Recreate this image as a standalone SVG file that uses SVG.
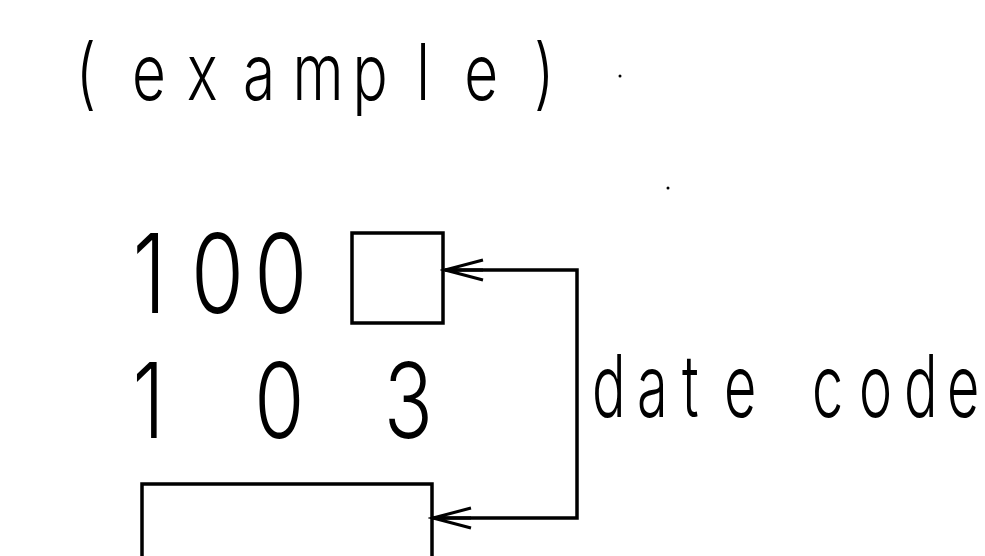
<svg xmlns="http://www.w3.org/2000/svg" width="985" height="556" viewBox="0 0 985 556">
<style>
  .t { font-family: "Inter", "Liberation Sans", sans-serif; font-weight: 300; fill: #000; }
  .ln { fill: none; stroke: #000; stroke-width: 3.5; }
</style>
<defs>
  <marker id="arr" markerUnits="userSpaceOnUse" markerWidth="50" markerHeight="30" viewBox="-45 -15 50 30" refX="0" refY="0" orient="auto-start-reverse">
    <path d="M-38,-10 L0,0 L-38,10 M0,0 L-38,0" fill="none" stroke="#000" stroke-width="3"/>
  </marker>
</defs>
<rect width="985" height="556" fill="#fff"/>
<g id="title">
  <text class="t" transform="translate(0,100) scale(0.75,1)" font-size="78" x="101 176 249 324 390 470 555 619 712" y="0">(example)</text>
  <circle cx="620" cy="76" r="1.5" fill="#000"/>
  <circle cx="668" cy="188" r="1.5" fill="#000"/>
</g>
<g id="label-100">
  <text class="t" transform="translate(0,313) scale(0.78,1)" font-size="110" x="170 245 326" y="0">100</text>
</g>
<g id="box-top">
  <rect class="ln" x="352" y="233" width="91" height="90"/>
</g>
<g id="label-103">
  <text class="t" transform="translate(0,438) scale(0.78,1)" font-size="104" x="170 250 326 400 492" y="0">1 0 3</text>
</g>
<g id="box-bottom">
  <path class="ln" d="M142,560 V484 H432 V560"/>
</g>
<g id="label-date-code">
  <text class="t" transform="translate(0,417) scale(0.65,1)" font-size="86" x="910.8 980 1049.2 1113.8 1184.6 1249.2 1321.5 1390.8 1456.9" y="0">date code</text>
</g>
<g id="connectors">
  <path class="ln" d="M445,270 H577 V518 H433" marker-start="url(#arr)" marker-end="url(#arr)"/>
</g>
</svg>
